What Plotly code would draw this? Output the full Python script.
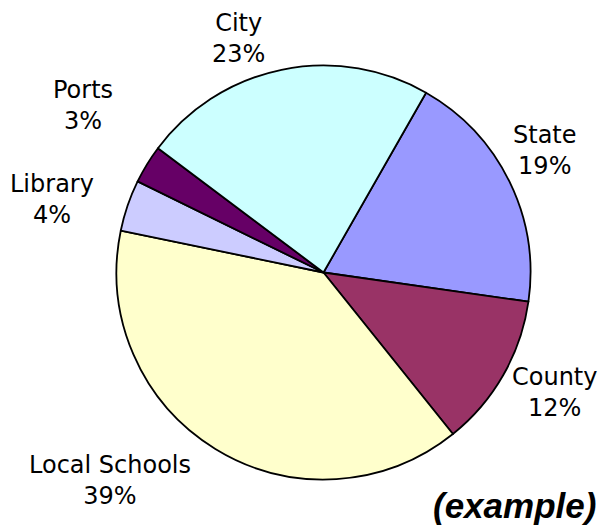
import plotly.graph_objects as go

# ---- data ----
categories = ["State", "County", "Local Schools", "Library", "Ports", "City"]
percent_values = [19, 12, 39, 4, 3, 23]
slice_colors = ["#9999FF", "#993366", "#FFFFCC", "#CCCCFF", "#660066", "#CCFFFF"]

W, H = 602, 528
cx, cy, R = 323.5, 272.5, 207.0  # pie centre / radius in px (layout)

fig = go.Figure(
    go.Pie(
        labels=categories,
        values=percent_values,
        sort=False,
        direction="clockwise",
        rotation=29.7,
        marker=dict(colors=slice_colors, line=dict(color="#000000", width=1.8)),
        textinfo="none",
        hoverinfo="label+percent",
        showlegend=False,
        domain=dict(
            x=[(cx - R) / W, (cx + R) / W],
            y=[(H - cy - R) / H, (H - cy + R) / H],
        ),
    )
)

# label block centres (px from top-left), matching the reference layout
label_pos = {
    "City": (238, 38),
    "State": (545, 150),
    "County": (554, 392),
    "Local Schools": (110, 480),
    "Library": (52, 199),
    "Ports": (83, 105),
}

annotations = []
for name, val in zip(categories, percent_values):
    px, py = label_pos[name]
    annotations.append(
        dict(
            text=f"{name}<br>{val}%",
            x=px / W,
            y=1 - py / H,
            xref="paper",
            yref="paper",
            xanchor="center",
            yanchor="middle",
            showarrow=False,
            align="center",
            font=dict(family="DejaVu Sans", size=24, color="#000000"),
        )
    )

annotations.append(
    dict(
        text="<b><i>(example)</i></b>",
        x=598 / W,
        y=1 - 505 / H,
        xref="paper",
        yref="paper",
        xanchor="right",
        yanchor="middle",
        showarrow=False,
        font=dict(family="Liberation Sans", size=35, color="#000000"),
    )
)

fig.update_layout(
    width=W,
    height=H,
    margin=dict(l=0, r=0, t=0, b=0),
    paper_bgcolor="#FFFFFF",
    plot_bgcolor="#FFFFFF",
    annotations=annotations,
)

fig.write_html(
    "out.html",
    config={"displayModeBar": False},
    post_script="document.body.style.margin='0';document.body.style.overflow='hidden';",
)
